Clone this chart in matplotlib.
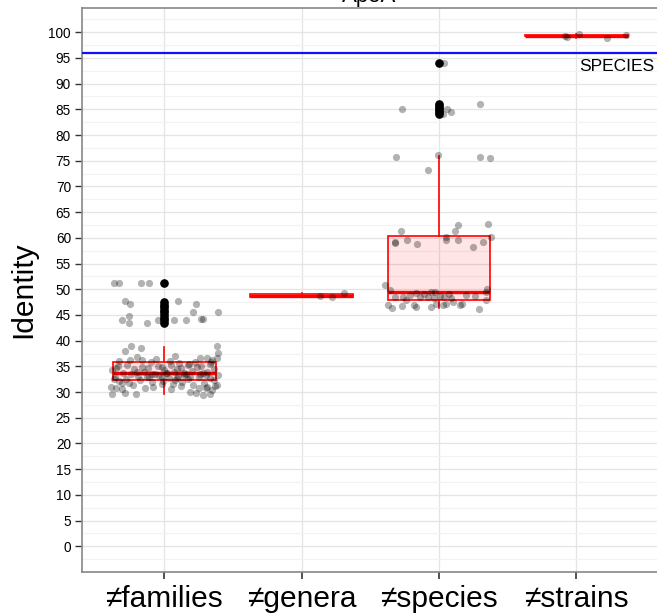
import matplotlib
matplotlib.use('Agg')
import matplotlib.pyplot as plt
from matplotlib.ticker import MultipleLocator, FixedLocator
from matplotlib.transforms import blended_transform_factory

plt.rcParams['font.family'] = ['Liberation Sans', 'DejaVu Sans']

# ---------------- data ----------------
categories = ['≠families', '≠genera', '≠species', '≠strains']
y_ticks = [0, 5, 10, 15, 20, 25, 30, 35, 40, 45, 50, 55, 60, 65, 70, 75, 80,
           85, 90, 95, 100]

# box statistics
box_q1 = [32.4, 48.45, 47.9, 99.2]
box_med = [33.7, 48.75, 49.5, 99.3]
box_q3 = [35.9, 49.05, 60.4, 99.4]
box_lo = [29.7, 48.4, 46.3, 98.8]
box_hi = [38.8, 49.2, 75.9, 99.6]
fliers_families = [51.2, 47.5, 47.0, 46.5, 46.0, 45.5, 45.0, 44.5, 44.0, 43.5]
fliers_genera = []
fliers_species = [94.0, 86.0, 85.6, 85.2, 84.8, 84.4, 84.0]
fliers_strains = []

# jittered points: offset from category centre, identity value
fam_dx = [-0.37, -0.33, -0.17, -0.11, -0.29, -0.25, 0.10, 0.23, 0.21, 0.39,
          -0.26, -0.31, -0.26, -0.13, -0.05, 0.07, 0.16, 0.27, 0.28,
          -0.24, -0.29, -0.17, 0.38, -0.20, -0.25, 0.08, 0.31, 0.26, 0.38,
          0.18, 0.17, -0.34, -0.10, -0.02, 0.05, 0.12, 0.22, 0.33, -0.38,
          -0.30, -0.22, -0.15, -0.07, 0.00, 0.07, 0.14, 0.20, 0.28, 0.36,
          -0.36, -0.28, -0.19, -0.11, -0.04, 0.03, 0.10, 0.17, 0.25, 0.33,
          0.39, -0.33, -0.26, -0.18, -0.09, -0.01, 0.06, 0.13, 0.21, 0.29,
          0.37, -0.39, -0.31, -0.23, -0.14, 0.19, 0.23, 0.25, 0.28, 0.30,
          0.33, 0.31, 0.35, 0.38, -0.38, -0.21, -0.35, -0.31, -0.12, -0.05,
          0.02, 0.09, 0.16, 0.24, 0.31, -0.27, -0.33, -0.16, -0.06, 0.04,
          0.11, 0.27, 0.34, 0.36, -0.37, -0.24, -0.13, -0.02, 0.08, 0.19,
          0.30, 0.35, 0.39, -0.08, -0.02, 0.05, 0.12, -0.29, -0.20, -0.09,
          0.01, 0.14, 0.26, -0.35, 0.09, -0.16]
fam_y = [51.2, 51.2, 51.2, 51.2, 47.7, 47.1, 47.7, 47.1, 45.6, 45.5,
         44.7, 44.1, 43.5, 43.5, 44.1, 44.1, 44.1, 44.3, 44.2,
         38.9, 38.0, 38.5, 38.9, 36.8, 36.2, 37.0, 36.7, 36.7, 36.7,
         35.5, 35.2, 35.0, 35.8, 34.9, 35.3, 34.6, 35.9, 35.4, 34.2,
         33.8, 34.5, 34.0, 33.6, 34.2, 33.9, 33.3, 34.1, 33.7, 34.4,
         33.0, 32.6, 33.2, 32.9, 33.4, 32.7, 33.1, 32.5, 33.0, 32.8,
         33.3, 32.1, 31.7, 32.3, 31.9, 32.2, 31.6, 32.0, 31.4, 31.8,
         31.2, 31.0, 30.6, 31.3, 30.8, 30.0, 29.8, 30.7, 29.5, 30.7,
         29.7, 31.0, 30.4, 31.3, 29.7, 29.7, 30.7, 31.7, 34.6, 35.1,
         33.8, 34.4, 33.6, 34.8, 34.0, 35.3, 36.0, 36.2, 36.5, 36.0,
         35.7, 35.1, 35.8, 32.4, 32.5, 33.5, 33.0, 32.9, 32.3, 33.0,
         33.4, 36.3, 37.6, 30.9, 31.5, 30.5, 31.1, 29.9, 33.9, 33.5,
         33.7, 33.8, 33.6, 34.7, 32.8, 34.9]

gen_dx = [0.13, 0.22, 0.31]
gen_y = [48.6, 48.4, 49.3]

spe_dx = [0.04, -0.27, 0.30, 0.06, 0.09, 0.03, -0.31, -0.01, 0.30, 0.37,
          -0.08, 0.14, 0.36, 0.12, -0.28, 0.38, 0.05, -0.32, -0.32, -0.23,
          -0.16, 0.05, 0.14, 0.25, 0.32, -0.39, -0.36, -0.32, -0.26, -0.21,
          -0.17, -0.14, -0.08, -0.06, -0.03, -0.04, 0.04, 0.07, 0.09, 0.26,
          0.35, 0.34, 0.34, -0.37, -0.34, -0.27, -0.18, -0.17, -0.06, -0.02,
          0.03, 0.05, 0.10, 0.15, 0.17, 0.29, -0.11, 0.20, -0.24, 0.01]
spe_y = [94.0, 85.0, 86.0, 85.0, 84.4, 84.0, 75.8, 76.1, 75.8, 75.5,
         73.2, 62.4, 62.6, 61.3, 61.3, 60.1, 60.1, 59.1, 58.9, 59.5,
         58.8, 59.5, 59.5, 58.2, 59.1, 50.9, 49.8, 48.5, 48.4, 48.8,
         49.2, 48.4, 48.5, 49.5, 49.5, 48.2, 48.5, 49.0, 48.2, 48.6,
         50.1, 49.5, 48.0, 46.9, 46.4, 46.8, 46.9, 46.6, 46.6, 47.2,
         46.9, 47.2, 47.5, 46.9, 47.2, 46.2, 49.0, 48.9, 47.9, 48.7]

str_dx = [-0.08, -0.07, 0.02, 0.22, 0.36]
str_y = [99.2, 99.0, 99.6, 98.8, 99.4]

species_threshold = 96
threshold_label = 'SPECIES'
title_text = 'ApoA'
y_label = 'Identity'

# ---------------- figure ----------------
fig = plt.figure(figsize=(6.57, 6.16), dpi=100)
ax = fig.add_axes([0.1248, 0.0714, 0.8778, 0.9156])

fliers = [fliers_families, fliers_genera, fliers_species, fliers_strains]
stats = []
for i, name in enumerate(categories):
    stats.append(dict(label=name, q1=box_q1[i], med=box_med[i], q3=box_q3[i],
                      whislo=box_lo[i], whishi=box_hi[i], fliers=fliers[i]))

positions = [1, 2, 3, 4]
ax.bxp(stats, positions=positions, widths=0.75, patch_artist=True,
       showcaps=False,
       boxprops=dict(facecolor=(1, 0, 0, 0.1), edgecolor='red', linewidth=1.2),
       medianprops=dict(color='red', linewidth=2.4),
       whiskerprops=dict(color='red', linewidth=1.2),
       flierprops=dict(marker='o', markerfacecolor='black',
                       markeredgecolor='black', markersize=5.2),
       zorder=2)

for pos, dx, yy in zip(positions, [fam_dx, gen_dx, spe_dx, str_dx],
                       [fam_y, gen_y, spe_y, str_y]):
    ax.scatter([pos + d for d in dx], yy, s=27, color='black', alpha=0.3,
               linewidths=0, zorder=3)

ax.axhline(species_threshold, color='#1010FF', linewidth=1.6, zorder=4)
ax.text(0.9925, species_threshold - 1.2, threshold_label, ha='right', va='top',
        fontsize=12.5, color='black',
        transform=blended_transform_factory(ax.transAxes, ax.transData))

ax.set_xlim(0.4, 4.6)
ax.set_ylim(-5.0, 104.7)
ax.set_xticks(positions)
ax.set_xticklabels(categories, fontsize=21.5)
ax.yaxis.set_major_locator(FixedLocator(y_ticks))
ax.yaxis.set_minor_locator(MultipleLocator(2.5))
ax.tick_params(axis='y', which='major', labelsize=9.8, length=5,
               color='#333333', width=1, pad=3)
ax.tick_params(axis='x', which='major', length=5, color='#333333', width=1.2,
               pad=4)
ax.tick_params(which='minor', length=0)
ax.set_ylabel(y_label, fontsize=21.5, labelpad=8)

ax.grid(which='major', color='#E4E4E4', linewidth=0.9)
ax.grid(which='minor', axis='y', color='#F2F2F2', linewidth=0.9)
ax.set_axisbelow(True)
for side in ['left', 'bottom', 'top', 'right']:
    ax.spines[side].set_color('#888888')
    ax.spines[side].set_linewidth(1.2)

fig.text(0.5625, 0.997, title_text, ha='center', va='baseline', fontsize=16)

fig.savefig('out.png', dpi=100)
